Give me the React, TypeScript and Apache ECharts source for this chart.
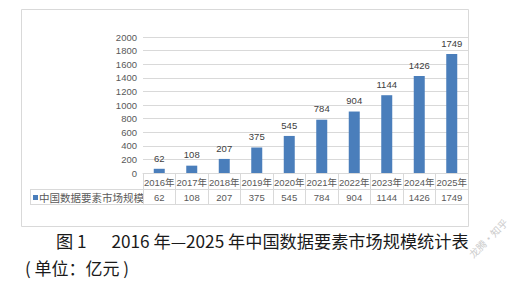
import React, { useEffect, useRef } from "react";
import * as echarts from "echarts";

const years = ["2016年", "2017年", "2018年", "2019年", "2020年", "2021年", "2022年", "2023年", "2024年", "2025年"];
const marketSize = [62, 108, 207, 375, 545, 784, 904, 1144, 1426, 1749];
const seriesName = "中国数据要素市场规模";
const captionTitle = "图 1　  2016 年—2025 年中国数据要素市场规模统计表";
const captionUnit = "( 单位：亿元 )";
const watermark = "龙腾·知乎";

const BAR = "#4A7EBB";
const GRID = "#D9D9D9";
const TXT = "#595959";
const FONT = "'Liberation Sans', 'Noto Sans CJK SC', sans-serif";
const CAP = "'Noto Sans CJK SC', sans-serif";

export default function App() {
  const ref = useRef<HTMLDivElement>(null);
  useEffect(() => {
    if (!ref.current) return;
    const chart = echarts.init(ref.current, null, { renderer: "svg" });
    chart.setOption({
      animation: false,
      backgroundColor: "#fff",
      textStyle: { fontFamily: FONT },
      grid: { left: 143, right: 51, top: 37, height: 136 },
      xAxis: {
        type: "category",
        data: years,
        axisLine: { show: true, lineStyle: { color: GRID, width: 1 } },
        axisTick: { show: true, interval: 0, length: 31, lineStyle: { color: GRID } },
        axisLabel: {
          interval: 0,
          margin: 1,
          formatter: (v: string, i: number) => `{y|${v}}\n{v|${marketSize[i]}}`,
          rich: {
            y: { fontSize: 9.5, lineHeight: 16, color: TXT, fontFamily: FONT },
            v: { fontSize: 9.5, lineHeight: 15, color: TXT, fontFamily: FONT },
          },
        },
      },
      yAxis: {
        type: "value",
        min: 0,
        max: 2000,
        interval: 200,
        axisLine: { show: false },
        axisTick: { show: false },
        axisLabel: { fontSize: 9.5, color: TXT, margin: 6, fontFamily: FONT, formatter: (v: number) => String(v) },
        splitLine: { lineStyle: { color: GRID, width: 1 } },
      },
      series: [
        {
          name: seriesName,
          type: "bar",
          data: marketSize,
          barWidth: 11,
          itemStyle: { color: BAR },
          label: { show: true, position: "top", fontSize: 9.5, color: "#404040", distance: 6, fontFamily: FONT },
        },
      ],
      graphic: [
        { type: "rect", shape: { x: 21.5, y: 9.5, width: 447, height: 217 }, style: { fill: "none", stroke: GRID, lineWidth: 1 }, z: 0 },
        { type: "line", shape: { x1: 30, y1: 189.5, x2: 468, y2: 189.5 }, style: { stroke: GRID, lineWidth: 1 } },
        { type: "line", shape: { x1: 30, y1: 204.5, x2: 468, y2: 204.5 }, style: { stroke: GRID, lineWidth: 1 } },
        { type: "line", shape: { x1: 30.5, y1: 189, x2: 30.5, y2: 205 }, style: { stroke: GRID, lineWidth: 1 } },
        { type: "rect", shape: { x: 33, y: 195, width: 5, height: 5 }, style: { fill: BAR } },
        { type: "text", x: 39, y: 197.5, style: { text: seriesName, fontSize: 10.5, fill: TXT, fontFamily: FONT, verticalAlign: "middle" } },
        { type: "text", x: 56, y: 240, style: { text: captionTitle, fontSize: 17.2, fill: "#1a1a1a", fontFamily: CAP, verticalAlign: "middle" } },
        { type: "text", x: 25, y: 267, style: { text: captionUnit, fontSize: 17, fill: "#1a1a1a", fontFamily: CAP, verticalAlign: "middle" } },
        { type: "text", x: 488, y: 238, rotation: Math.PI / 4, style: { text: watermark, fontSize: 10, fill: "#cccccc", fontFamily: CAP, align: "center", verticalAlign: "middle" } },
      ],
    });
    return () => chart.dispose();
  }, []);
  return <div ref={ref} style={{ position: "absolute", left: 0, top: 0, width: 519, height: 283 }} />;
}
